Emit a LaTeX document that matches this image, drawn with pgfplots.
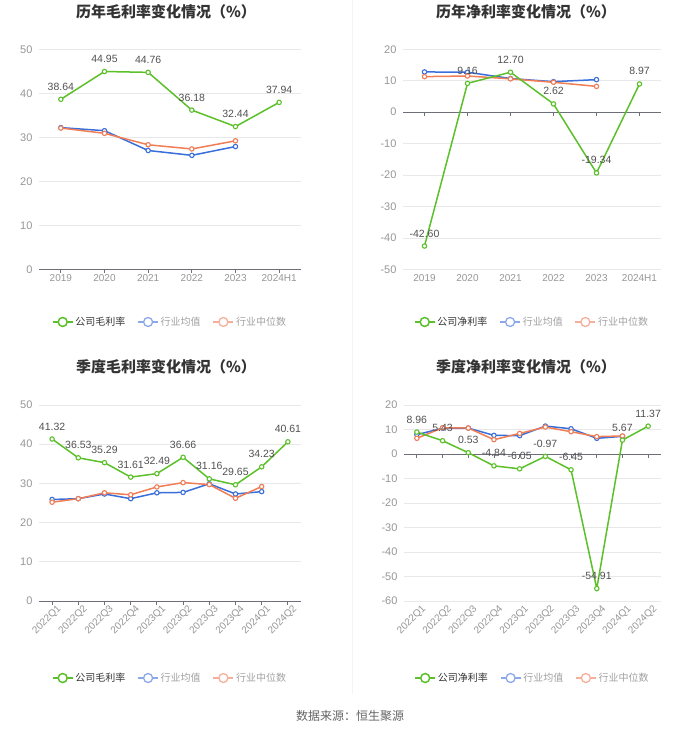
\documentclass[border=0pt]{standalone}
\usepackage{pgfplots}
\pgfplotsset{compat=1.18}
\usepackage{fontspec}
\setmainfont{Liberation Sans}
\newfontfamily\cjk{Noto Sans CJK SC}
\definecolor{cgreen}{RGB}{92,192,42}
\definecolor{cblue}{RGB}{58,110,218}
\definecolor{corange}{RGB}{240,125,85}
\definecolor{lblue}{RGB}{140,168,236}
\definecolor{lorange}{RGB}{244,176,154}
\definecolor{gridc}{RGB}{232,232,236}
\definecolor{tickc}{RGB}{150,150,150}
\definecolor{axisc}{RGB}{110,112,121}
\definecolor{labc}{RGB}{80,80,80}
\definecolor{titc}{RGB}{51,51,51}
\definecolor{legc}{RGB}{160,160,160}

\pgfplotsset{
  panel/.style={
    scale only axis,
    axis line style={draw=none},
    major tick length=0pt,
    ymajorgrids,
    grid style={gridc, line width=0.7pt},
    tick label style={font=\fontsize{10}{12}\selectfont, text=tickc},
    /pgf/number format/assume math mode=true,
    yticklabel style={xshift=-3pt, font=\fontsize{11}{13}\selectfont},
    clip=false,
    legend columns=3,
    legend style={draw=none, fill=none, font=\cjk\fontsize{10}{12}\selectfont,
      /tikz/every even column/.append style={column sep=10pt}, inner sep=0pt},
  },
  ser/.style={line width=1.5pt, mark=*, mark size=2.2pt, mark options={fill=white, line width=1.1pt}},
  lab/.style={nodes near coords, point meta=explicit symbolic,
    every node near coord/.append style={font=\fontsize{10.5}{12}\selectfont, text=labc, anchor=south, yshift=5pt}},
  gleg/.style={legend image code/.code={
     \draw[line width=1.5pt,cgreen] (0pt,0pt) -- (20pt,0pt);
     \draw[line width=1.5pt,cgreen,fill=white] (10pt,0pt) circle (4.5pt);}},
  bleg/.style={legend image code/.code={
     \draw[line width=1.3pt,lblue] (0pt,0pt) -- (20pt,0pt);
     \draw[line width=1.3pt,lblue,fill=white] (10pt,0pt) circle (4.5pt);}},
  oleg/.style={legend image code/.code={
     \draw[line width=1.3pt,lorange] (0pt,0pt) -- (20pt,0pt);
     \draw[line width=1.3pt,lorange,fill=white] (10pt,0pt) circle (4.5pt);}},
}

\begin{document}
\begin{tikzpicture}
\path[use as bounding box] (0pt,0pt) rectangle (700pt,734pt);
\draw[color={rgb,255:red,244;green,244;blue,246}, line width=0.8pt] (352pt,734pt) -- (352pt,40pt);

% titles
\node[font=\cjk\bfseries\fontsize{15}{18}\selectfont, text=titc] at (166pt,722pt) {历年毛利率变化情况（\%）};
\node[font=\cjk\bfseries\fontsize{15}{18}\selectfont, text=titc] at (526pt,722pt) {历年净利率变化情况（\%）};
\node[font=\cjk\bfseries\fontsize{15}{18}\selectfont, text=titc] at (166pt,367pt) {季度毛利率变化情况（\%）};
\node[font=\cjk\bfseries\fontsize{15}{18}\selectfont, text=titc] at (526pt,367pt) {季度净利率变化情况（\%）};
\node[font=\cjk\fontsize{12}{14}\selectfont, text={rgb,255:red,100;green,100;blue,100}] at (350pt,18pt) {数据来源：恒生聚源};

% ---------------- chart 1
\begin{axis}[panel, at={(39pt,464.7pt)}, anchor=south west, width=262pt, height=220pt,
  xmin=-0.5, xmax=5.5, ymin=0, ymax=50, ytick={0,10,...,50},
  xtick={0,...,5}, xticklabels={2019,2020,2021,2022,2023,2024H1},
  xticklabel style={yshift=-2pt},
  legend style={at={(0.5,-0.2395)}, anchor=center}]
\addlegendimage{gleg}\addlegendentry{\textcolor{titc}{公司毛利率}}
\addlegendimage{bleg}\addlegendentry{\textcolor{legc}{行业均值}}
\addlegendimage{oleg}\addlegendentry{\textcolor{legc}{行业中位数}}
\draw[axisc, line width=0.8pt] (axis cs:-0.5,0) -- (axis cs:5.5,0);
\pgfplotsinvokeforeach{0,...,5}{\draw[axisc, line width=0.8pt] (axis cs:#1,0) -- ++(0pt,-4pt);}
\addplot[ser, cblue, forget plot] coordinates {(0,32.2) (1,31.5) (2,27.0) (3,25.9) (4,27.9)};
\addplot[ser, corange, forget plot] coordinates {(0,32.1) (1,30.9) (2,28.3) (3,27.35) (4,29.2)};
\addplot[ser, cgreen, lab, forget plot] table[meta=l] {
x y l
0 38.64 38.64
1 44.95 44.95
2 44.76 44.76
3 36.18 36.18
4 32.44 32.44
5 37.94 37.94
};
\end{axis}

% ---------------- chart 2
\begin{axis}[panel, at={(403pt,464.7pt)}, anchor=south west, width=258pt, height=220pt,
  xmin=-0.5, xmax=5.5, ymin=-50, ymax=20, ytick={-50,-40,...,20},
  xtick={0,...,5}, xticklabels={2019,2020,2021,2022,2023,2024H1},
  xticklabel style={yshift=-2pt},
  legend style={at={(0.5,-0.2395)}, anchor=center}]
\addlegendimage{gleg}\addlegendentry{\textcolor{titc}{公司净利率}}
\addlegendimage{bleg}\addlegendentry{\textcolor{legc}{行业均值}}
\addlegendimage{oleg}\addlegendentry{\textcolor{legc}{行业中位数}}
\draw[axisc, line width=0.8pt] (axis cs:-0.5,0) -- (axis cs:5.5,0);
\pgfplotsinvokeforeach{0,...,5}{\draw[axisc, line width=0.8pt] (axis cs:#1,0) -- ++(0pt,-4pt);}
\addplot[ser, cblue, forget plot] coordinates {(0,12.8) (1,12.7) (2,10.7) (3,9.7) (4,10.35)};
\addplot[ser, corange, forget plot] coordinates {(0,11.3) (1,11.5) (2,10.6) (3,9.5) (4,8.2)};
\addplot[ser, cgreen, lab, forget plot] table[meta=l] {
x y l
0 -42.60 -42.60
1 9.16 9.16
2 12.70 12.70
3 2.62 2.62
4 -19.34 -19.34
5 8.97 8.97
};
\end{axis}

% ---------------- chart 3
\begin{axis}[panel, at={(39pt,133pt)}, anchor=south west, width=262pt, height=196pt,
  xmin=-0.5, xmax=9.5, ymin=0, ymax=50, ytick={0,10,...,50},
  xtick={0,...,9}, xticklabels={2022Q1,2022Q2,2022Q3,2022Q4,2023Q1,2023Q2,2023Q3,2023Q4,2024Q1,2024Q2},
  xticklabel style={rotate=45, anchor=north east, xshift=4pt, yshift=-2pt},
  legend style={at={(0.5,-0.393)}, anchor=center}]
\addlegendimage{gleg}\addlegendentry{\textcolor{titc}{公司毛利率}}
\addlegendimage{bleg}\addlegendentry{\textcolor{legc}{行业均值}}
\addlegendimage{oleg}\addlegendentry{\textcolor{legc}{行业中位数}}
\draw[axisc, line width=0.8pt] (axis cs:-0.5,0) -- (axis cs:9.5,0);
\pgfplotsinvokeforeach{0,...,9}{\draw[axisc, line width=0.8pt] (axis cs:#1,0) -- ++(0pt,-4pt);}
\addplot[ser, cblue, forget plot] coordinates {(0,25.9) (1,26.1) (2,27.3) (3,26.1) (4,27.6) (5,27.7) (6,29.9) (7,27.3) (8,27.9)};
\addplot[ser, corange, forget plot] coordinates {(0,25.2) (1,26.1) (2,27.6) (3,27.1) (4,29.1) (5,30.2) (6,29.7) (7,26.2) (8,29.2)};
\addplot[ser, cgreen, lab, forget plot] table[meta=l] {
x y l
0 41.32 41.32
1 36.53 36.53
2 35.29 35.29
3 31.61 31.61
4 32.49 32.49
5 36.66 36.66
6 31.16 31.16
7 29.65 29.65
8 34.23 34.23
9 40.61 40.61
};
\end{axis}

% ---------------- chart 4
\begin{axis}[panel, at={(404pt,133pt)}, anchor=south west, width=257pt, height=196pt,
  xmin=-0.5, xmax=9.5, ymin=-60, ymax=20, ytick={-60,-50,...,20},
  xtick={0,...,9}, xticklabels={2022Q1,2022Q2,2022Q3,2022Q4,2023Q1,2023Q2,2023Q3,2023Q4,2024Q1,2024Q2},
  xticklabel style={rotate=45, anchor=north east, xshift=4pt, yshift=-2pt},
  legend style={at={(0.5,-0.393)}, anchor=center}]
\addlegendimage{gleg}\addlegendentry{\textcolor{titc}{公司净利率}}
\addlegendimage{bleg}\addlegendentry{\textcolor{legc}{行业均值}}
\addlegendimage{oleg}\addlegendentry{\textcolor{legc}{行业中位数}}
\draw[axisc, line width=0.8pt] (axis cs:-0.5,0) -- (axis cs:9.5,0);
\pgfplotsinvokeforeach{0,...,9}{\draw[axisc, line width=0.8pt] (axis cs:#1,0) -- ++(0pt,-4pt);}
\addplot[ser, cblue, forget plot] coordinates {(0,7.9) (1,10.5) (2,10.6) (3,7.6) (4,7.5) (5,11.4) (6,10.3) (7,6.4) (8,7.2)};
\addplot[ser, corange, forget plot] coordinates {(0,6.4) (1,10.7) (2,10.6) (3,5.85) (4,8.4) (5,11.0) (6,9.1) (7,7.1) (8,7.35)};
\addplot[ser, cgreen, lab, forget plot] table[meta=l] {
x y l
0 8.96 8.96
1 5.43 5.43
2 0.53 0.53
3 -4.84 -4.84
4 -6.05 -6.05
5 -0.97 -0.97
6 -6.45 -6.45
7 -54.91 -54.91
8 5.67 5.67
9 11.37 11.37
};
\end{axis}
\end{tikzpicture}
\end{document}
